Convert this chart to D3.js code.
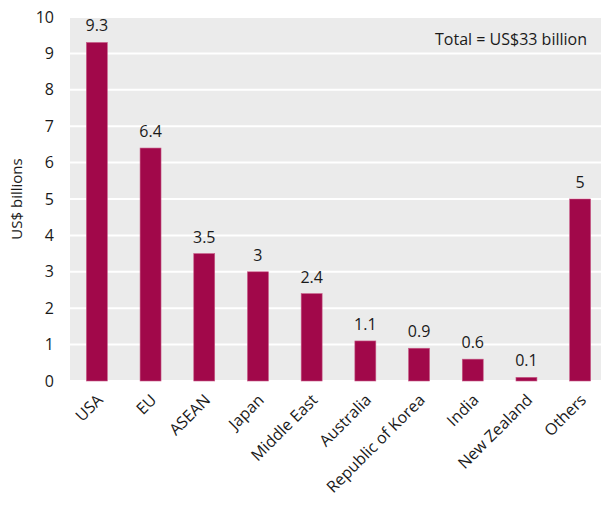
<!DOCTYPE html>
<html>
<head>
<meta charset="utf-8">
<script src="https://cdn.jsdelivr.net/npm/d3@7"></script>
<style>
  body { margin: 0; background: #fff; }
  text { font-family: "Open Sans", Arial, sans-serif; fill: #1a1a1a; }
</style>
</head>
<body>
<div id="chart"></div>
<script>
// data
var regions = ["USA", "EU", "ASEAN", "Japan", "Middle East", "Australia",
               "Republic of Korea", "India", "New Zealand", "Others"];
var values = [9.3, 6.4, 3.5, 3, 2.4, 1.1, 0.9, 0.6, 0.1, 5];
var yTicks = [0, 1, 2, 3, 4, 5, 6, 7, 8, 9, 10];

var W = 601, H = 508;
var margin = {top: 17, right: -6, bottom: 127, left: 70},
    width = W - margin.left - margin.right,
    height = H - margin.top - margin.bottom;

var svg = d3.select("#chart").append("svg")
    .attr("width", W)
    .attr("height", H)
  .append("g")
    .attr("transform", "translate(" + margin.left + "," + margin.top + ")");

var x = d3.scaleBand().domain(regions).range([0, width]).paddingInner(0.61).paddingOuter(0.305);
var y = d3.scaleLinear().domain([0, 10]).range([height, 0]);

// plot background
svg.append("rect")
    .attr("width", width)
    .attr("height", height)
    .attr("fill", "#ebebeb");

// gridlines
svg.append("g")
    .selectAll("line")
    .data(yTicks)
    .enter().append("line")
    .attr("x1", 0)
    .attr("x2", width)
    .attr("y1", function(d) { return y(d); })
    .attr("y2", function(d) { return y(d); })
    .attr("stroke", "#fff")
    .attr("stroke-width", 2);

// y axis
var yAxis = svg.append("g")
    .call(d3.axisLeft(y).tickValues(yTicks).tickSize(0).tickPadding(16));
yAxis.select(".domain").remove();
yAxis.selectAll("text")
    .style("font-size", "16px")
    .style("font-family", "'Open Sans', Arial, sans-serif")
    .attr("fill", "#1a1a1a");

// bars
var col = "#a1084a";
svg.append("g")
    .selectAll("rect")
    .data(values)
    .enter().append("rect")
    .attr("x", function(d, i) { return x(regions[i]); })
    .attr("y", function(d) { return y(d); })
    .attr("width", x.bandwidth())
    .attr("height", function(d) { return height - y(d); })
    .attr("fill", col)
    .attr("stroke", "#c75a86")
    .attr("stroke-width", 0.6);

// value labels
svg.append("g")
    .selectAll("text")
    .data(values)
    .enter().append("text")
    .attr("x", function(d, i) { return x(regions[i]) + x.bandwidth() / 2; })
    .attr("y", function(d) { return y(d) - 11; })
    .attr("text-anchor", "middle")
    .style("font-size", "16px")
    .text(function(d) { return d; });

// x labels
svg.append("g")
    .selectAll("text")
    .data(regions)
    .enter().append("text")
    .attr("transform", function(d) {
        return "translate(" + (x(d) + x.bandwidth() / 2 + 7) + "," + (height + 20) + ") rotate(-45)";
    })
    .attr("text-anchor", "end")
    .style("font-size", "16px")
    .text(function(d) { return d; });

// y title
svg.append("text")
    .attr("transform", "translate(" + (-48) + "," + (height / 2) + ") rotate(-90)")
    .attr("text-anchor", "middle")
    .style("font-size", "15px")
    .text("US$ billions");

// total note
svg.append("text")
    .attr("x", 587 - margin.left)
    .attr("y", 45 - margin.top)
    .attr("text-anchor", "end")
    .style("font-size", "16px")
    .text("Total = US$33 billion");
</script>
</body>
</html>
